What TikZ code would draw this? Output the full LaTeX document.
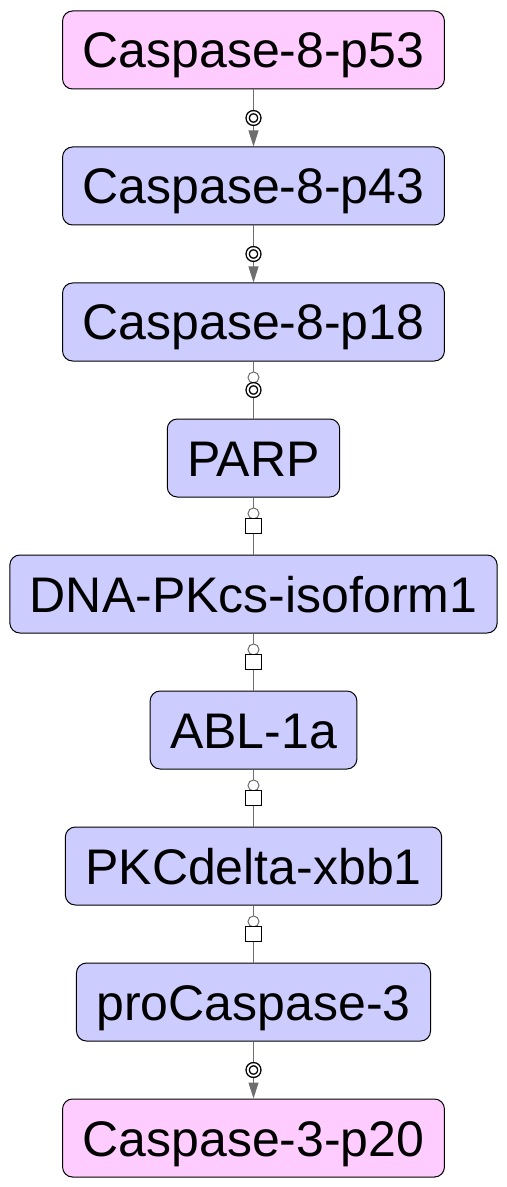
\documentclass[tikz,border=0pt]{standalone}
\usepackage{fontspec}
\setmainfont{Liberation Sans}
\usepackage{xcolor}
\usetikzlibrary{positioning, arrows.meta}

\definecolor{pinkbox}{HTML}{FFCCFF}
\definecolor{bluebox}{HTML}{CCCCFF}
\definecolor{linkgray}{HTML}{6E6E6E}

\begin{document}
\begin{tikzpicture}[
  node distance=28.5pt,
  box/.style={draw, rounded corners=5pt, line width=0.5pt, minimum height=39pt, inner xsep=10pt, text height=18pt, text depth=0pt, font=\fontsize{25}{30}\selectfont},
  product/.style={box, fill=pinkbox},
  protein/.style={box, fill=bluebox},
  link/.style={draw=linkgray, line width=0.5pt},
  cleave/.style={link, -{Triangle[length=8pt, width=5pt, fill=linkgray]}},
  knob/.style={circle, draw=linkgray, fill=white, line width=0.5pt, inner sep=0pt, minimum size=5.5pt},
  bullseye/.style={circle, draw=black, double=white, double distance=0.9pt, line width=0.7pt, fill=white, inner sep=0pt, minimum size=5.8pt},
  gate/.style={rectangle, draw=black, fill=white, line width=0.6pt, inner sep=0pt, minimum size=7.8pt}
]

\useasboundingbox (0,0) rectangle (253.5pt,-593.5pt);

\node[product] (p53) at (126.75pt,-25pt) {Caspase-8-p53};
\node[protein, below=of p53] (p43) {Caspase-8-p43};
\node[protein, below=of p43] (p18) {Caspase-8-p18};
\node[protein, below=of p18] (parp) {PARP};
\node[protein, below=of parp] (dnapk) {DNA-PKcs-isoform1};
\node[protein, below=of dnapk] (abl) {ABL-1a};
\node[protein, below=of abl] (pkcd) {PKCdelta-xbb1};
\node[protein, below=of pkcd] (procasp) {proCaspase-3};
\node[product, below=of procasp] (p20) {Caspase-3-p20};

\draw[cleave] (p53) -- (p43) node[pos=0.5, bullseye] {};
\draw[cleave] (p43) -- (p18) node[pos=0.5, bullseye] {};
\draw[link] (p18) -- (parp) node[pos=0.28, knob] {} node[pos=0.5, bullseye] {};
\draw[link] (parp) -- (dnapk) node[pos=0.28, knob] {} node[pos=0.5, gate] {};
\draw[link] (dnapk) -- (abl) node[pos=0.28, knob] {} node[pos=0.5, gate] {};
\draw[link] (abl) -- (pkcd) node[pos=0.28, knob] {} node[pos=0.5, gate] {};
\draw[link] (pkcd) -- (procasp) node[pos=0.28, knob] {} node[pos=0.5, gate] {};
\draw[cleave] (procasp) -- (p20) node[pos=0.5, bullseye] {};

\end{tikzpicture}
\end{document}
